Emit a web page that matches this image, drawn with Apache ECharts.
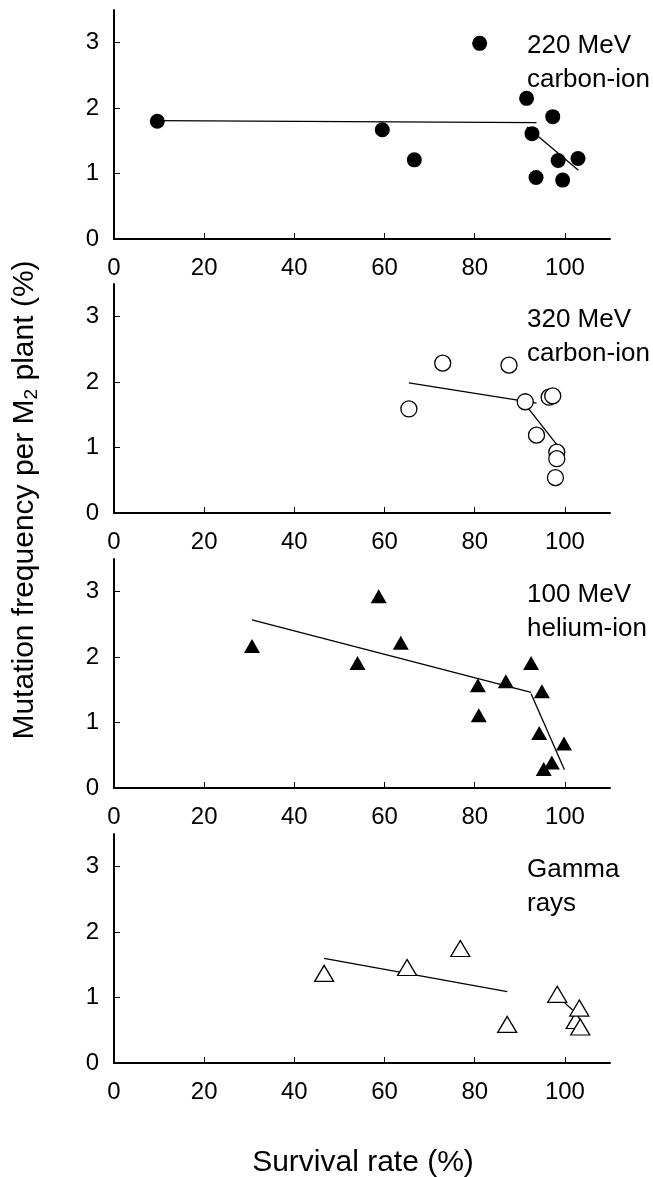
<!DOCTYPE html>
<html>
<head>
<meta charset="utf-8">
<script src="https://cdn.jsdelivr.net/npm/echarts@6/dist/echarts.min.js"></script>
<style>
html,body{margin:0;padding:0;background:#fff;}
#chart{width:653px;height:1177px;}
</style>
</head>
<body>
<div id="chart"></div>
<script>
// ---- Data ----
const xTicks = [0, 20, 40, 60, 80, 100];
const yTicks = [0, 1, 2, 3];

const panelLabels = ['220 MeV\ncarbon-ion', '320 MeV\ncarbon-ion', '100 MeV\nhelium-ion', 'Gamma\nrays'];

// 220 MeV carbon-ion
const c220X = [9.6, 59.5, 66.6, 81.1, 91.5, 92.7, 93.6, 97.3, 98.5, 99.5, 102.9];
const c220Y = [1.80, 1.67, 1.21, 2.99, 2.15, 1.61, 0.94, 1.87, 1.20, 0.90, 1.23];
const c220FitA = [[9.6, 1.81], [93.7, 1.78]];
const c220FitB = [[91.6, 1.71], [103.0, 1.05]];

// 320 MeV carbon-ion
const c320X = [65.4, 72.9, 87.6, 91.2, 96.5, 97.3, 93.7, 98.2, 98.2, 97.9];
const c320Y = [1.59, 2.29, 2.26, 1.70, 1.77, 1.79, 1.19, 0.93, 0.83, 0.54];
const c320FitA = [[65.4, 1.99], [93.7, 1.68]];
const c320FitB = [[91.4, 1.64], [98.6, 1.01]];

// 100 MeV helium-ion
const he100X = [30.6, 54.0, 58.7, 63.6, 80.7, 80.9, 86.9, 92.5, 94.9, 94.3, 95.3, 97.1, 99.8];
const he100Y = [2.17, 1.91, 2.93, 2.22, 1.57, 1.11, 1.63, 1.91, 1.48, 0.84, 0.29, 0.39, 0.68];
const he100FitA = [[30.6, 2.57], [92.5, 1.46]];
const he100FitB = [[92.5, 1.44], [99.9, 0.28]];

// Gamma rays
const gammaX = [46.6, 65.0, 76.8, 87.2, 98.3, 102.4, 103.2, 103.4];
const gammaY = [1.37, 1.46, 1.75, 0.59, 1.05, 0.65, 0.84, 0.55];
const gammaFitA = [[46.6, 1.60], [87.2, 1.09]];
const gammaFitB = [[99.0, 0.98], [101.7, 0.81]];

// ---- Chart ----
const FONT = "'Liberation Sans', Arial, sans-serif";
const gridTops = [10, 284, 559, 834];
const gridH = 229;

const panels = [
  {x: c220X, y: c220Y, fits: [c220FitA, c220FitB], symbol: 'circle', size: 15, fill: '#000'},
  {x: c320X, y: c320Y, fits: [c320FitA, c320FitB], symbol: 'circle', size: 16, fill: '#fff'},
  {x: he100X, y: he100Y, fits: [he100FitA, he100FitB], symbol: 'triangle', size: [16, 14], fill: '#000'},
  {x: gammaX, y: gammaY, fits: [gammaFitA, gammaFitB], symbol: 'triangle', size: [19, 16], fill: '#fff'}
];

const grid = [], xAxis = [], yAxis = [], series = [], graphic = [];
panels.forEach((p, i) => {
  grid.push({left: 114, width: 496, top: gridTops[i], height: gridH});
  xAxis.push({
    type: 'value', gridIndex: i, min: 0, max: 110,
    axisLine: {show: true, lineStyle: {color: '#000', width: 2}},
    axisTick: {show: true, inside: true, length: 6, lineStyle: {color: '#000', width: 1}, customValues: xTicks},
    axisLabel: {color: '#000', fontSize: 24, fontFamily: FONT, margin: 17, customValues: xTicks},
    splitLine: {show: false}
  });
  yAxis.push({
    type: 'value', gridIndex: i, min: 0, max: 3.5,
    axisLine: {show: true, lineStyle: {color: '#000', width: 2}},
    axisTick: {show: true, inside: true, length: 6, lineStyle: {color: '#000', width: 1}, customValues: yTicks},
    axisLabel: {color: '#000', fontSize: 24, fontFamily: FONT, margin: 15, customValues: yTicks},
    splitLine: {show: false}
  });
  p.fits.forEach(seg => {
    series.push({
      type: 'line', xAxisIndex: i, yAxisIndex: i, data: seg,
      symbol: 'none', silent: true, z: 1,
      lineStyle: {color: '#000', width: 1.3}
    });
  });
  series.push({
    type: 'scatter', xAxisIndex: i, yAxisIndex: i, z: 3,
    data: p.x.map((v, k) => [v, p.y[k]]),
    symbol: p.symbol, symbolSize: p.size,
    itemStyle: {color: p.fill, borderColor: '#000', borderWidth: p.fill === '#fff' ? 1.3 : 0, opacity: 1}
  });
  graphic.push({
    type: 'text', left: 527, top: gridTops[i] + 19,
    style: {text: panelLabels[i], font: '26px ' + FONT, lineHeight: 34, fill: '#000'}
  });
});

graphic.push({
  type: 'text', x: 25, y: 500, rotation: Math.PI / 2,
  style: {
    text: 'Mutation frequency per M{sub|2} plant (%)',
    font: '30px ' + FONT, fill: '#000', align: 'center', verticalAlign: 'middle', lineHeight: 32,
    rich: {sub: {fontSize: 19, fontFamily: FONT, fill: '#000', verticalAlign: 'bottom', lineHeight: 16}}
  }
});
graphic.push({
  type: 'text', x: 363, y: 1163,
  style: {text: 'Survival rate (%)', font: '30px ' + FONT, fill: '#000', align: 'center', verticalAlign: 'middle'}
});

const chart = echarts.init(document.getElementById('chart'), null, {renderer: 'canvas'});
chart.setOption({
  animation: false,
  backgroundColor: '#fff',
  grid, xAxis, yAxis, series, graphic
});
</script>
</body>
</html>
